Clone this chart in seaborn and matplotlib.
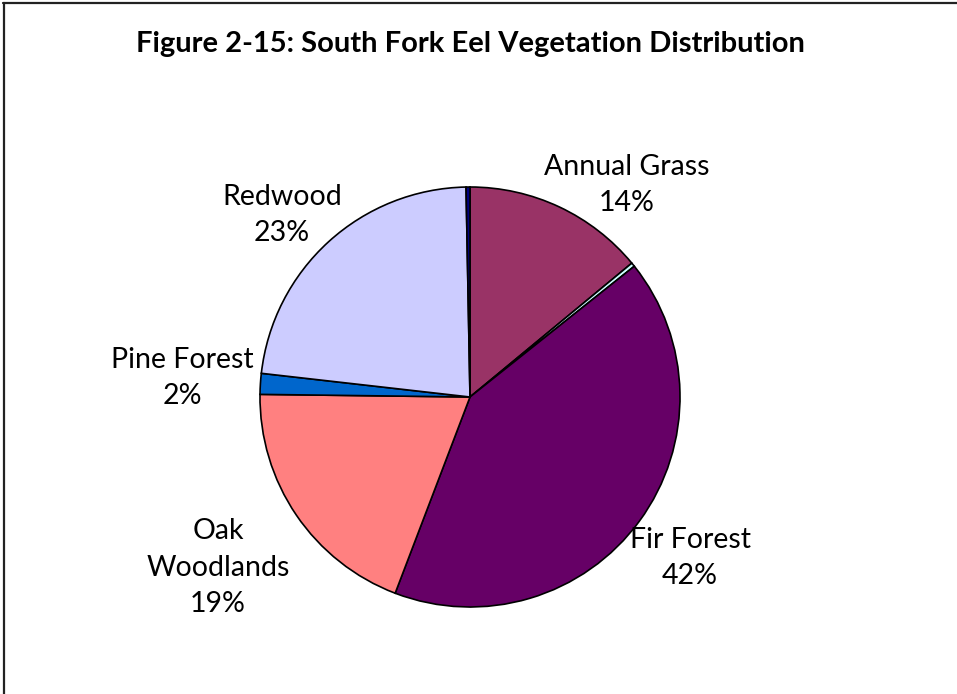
import matplotlib
matplotlib.use("Agg")
import matplotlib.pyplot as plt
import seaborn as sns
from matplotlib.lines import Line2D

# Data (clockwise from 12 o'clock)
categories = ["Annual Grass", "Other (minor)", "Fir Forest", "Oak Woodlands",
              "Pine Forest", "Redwood", "Other"]
values = [14.0, 0.3, 41.5, 19.4, 1.6, 22.9, 0.3]
label_texts = ["Annual Grass\n14%", "", "Fir Forest\n42%", "Oak\nWoodlands\n19%",
               "Pine Forest\n2%", "Redwood\n23%", ""]
colors = ["#993366", "#CCFFFF", "#660066", "#FF8080", "#0066CC", "#CCCCFF", "#000080"]

sns.set_theme(style="white")
plt.rcParams["font.family"] = ["Lato", "DejaVu Sans"]

W, H = 957, 694
fig = plt.figure(figsize=(W / 100, H / 100), dpi=100)
ax = fig.add_axes([0, 0, 1, 1])

cx, cy, R = 470, 397, 210
ax.axis("off")

ax.pie(values, colors=sns.color_palette(colors), startangle=90, counterclock=False,
       radius=1.0, center=(0, 0), frame=False,
       wedgeprops=dict(edgecolor="black", linewidth=1.2))
ax.set_xlim(-cx / R, (W - cx) / R)
ax.set_ylim(-(H - cy) / R, cy / R)
ax.set_aspect("auto")

label_pos = {
    "Annual Grass\n14%": (0.748, 1.01),
    "Fir Forest\n42%": (1.048, -0.767),
    "Oak\nWoodlands\n19%": (-1.2, -0.814),
    "Pine Forest\n2%": (-1.371, 0.09),
    "Redwood\n23%": (-0.895, 0.867),
}
for t in label_texts:
    if t:
        x, y = label_pos[t]
        ax.text(x, y, t, ha="center", va="center", fontsize=20.5, color="black",
                linespacing=1.5)

fig.text(470 / W, 1 - 44 / H, "Figure 2-15: South Fork Eel Vegetation Distribution",
         ha="center", va="center", fontsize=21, fontweight="bold", color="black")

# Chart-area border (top and left visible)
fig.add_artist(Line2D([3 / W, 1], [1 - 3 / H, 1 - 3 / H], transform=fig.transFigure,
                      color="#222222", linewidth=1.6))
fig.add_artist(Line2D([4 / W, 4 / W], [0, 1 - 3 / H], transform=fig.transFigure,
                      color="#222222", linewidth=1.6))

fig.savefig("out.png", dpi=100)
